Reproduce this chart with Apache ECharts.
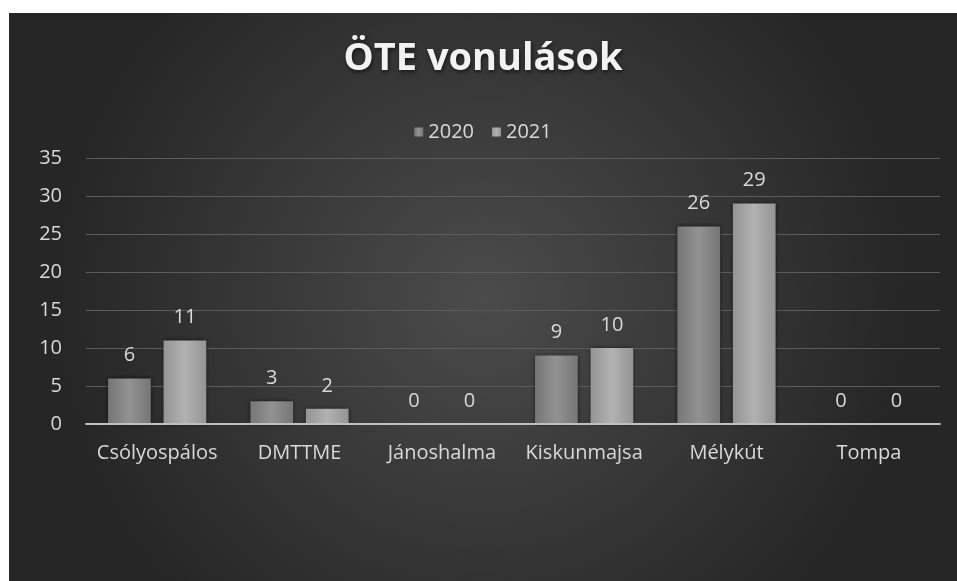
<!DOCTYPE html>
<html>
<head>
<meta charset="utf-8">
<script src="https://cdn.jsdelivr.net/npm/echarts@6/dist/echarts.min.js"></script>
<style>
    html, body {margin: 0; padding: 0; background: #fff;}
    #chart {position: absolute; left: 9px; top: 13px; width: 948px; height: 568px;}
</style>
</head>
<body>
<div id="chart"></div>
<script>
const categories = ['Csólyospálos', 'DMTTME', 'Jánoshalma', 'Kiskunmajsa', 'Mélykút', 'Tompa'];
const values2020 = [6, 3, 0, 9, 26, 0];
const values2021 = [11, 2, 0, 10, 29, 0];
const seriesNames = ['2020', '2021'];

const myChart = echarts.init(document.getElementById('chart'));

// oldalirányú árnyalás a "3D" hatáshoz
const barFill = (edge, mid) => new echarts.graphic.LinearGradient(0, 0, 1, 0, [
    {offset: 0, color: edge},
    {offset: 0.5, color: mid},
    {offset: 1, color: edge}
]);

const labelStyle = {
    show: true,
    position: 'top',
    distance: 13,
    color: '#d9d9d9',
    fontSize: 20,
    fontFamily: 'Open Sans'
};

const option = {
    backgroundColor: new echarts.graphic.RadialGradient(0.5, 0.5, 0.75, [
        {offset: 0, color: '#4b4b4b'},
        {offset: 1, color: '#262626'}
    ]),
    title: {
        text: 'ÖTE vonulások',
        left: 'center',
        top: 22,
        textStyle: {
            color: '#f2f2f2',
            fontSize: 38,
            fontWeight: 'bold',
            fontFamily: 'Open Sans',
            textShadowColor: 'rgba(0,0,0,0.6)',
            textShadowBlur: 4,
            textShadowOffsetX: 1,
            textShadowOffsetY: 2
        }
    },
    legend: {
        top: 104,
        left: 'center',
        icon: 'rect',
        itemWidth: 9,
        itemHeight: 9,
        itemGap: 18,
        textStyle: {color: '#d9d9d9', fontSize: 20, fontFamily: 'Open Sans'},
        data: seriesNames
    },
    grid: {left: 77, right: 17, top: 145, bottom: 157},
    xAxis: {
        type: 'category',
        data: categories,
        z: 5,
        axisLine: {lineStyle: {color: '#bfbfbf', width: 2}},
        axisTick: {show: false},
        axisLabel: {interval: 0, color: '#d9d9d9', fontSize: 20, fontFamily: 'Open Sans', margin: 19}
    },
    yAxis: {
        type: 'value',
        min: 0,
        max: 35,
        interval: 5,
        axisLine: {show: false},
        axisTick: {show: false},
        axisLabel: {color: '#d9d9d9', fontSize: 20, fontFamily: 'Open Sans', margin: 24},
        splitLine: {lineStyle: {color: '#5c5c5c', width: 1}}
    },
    series: [{
        name: seriesNames[0],
        type: 'bar',
        data: values2020,
        barWidth: '30%',
        barGap: '30%',
        itemStyle: {
            color: barFill('#767676', '#929292'),
            shadowColor: 'rgba(0,0,0,0.6)',
            shadowBlur: 4
        },
        label: labelStyle
    }, {
        name: seriesNames[1],
        type: 'bar',
        data: values2021,
        barWidth: '30%',
        itemStyle: {
            color: barFill('#949494', '#b2b2b2'),
            shadowColor: 'rgba(0,0,0,0.6)',
            shadowBlur: 4
        },
        label: labelStyle
    }]
};
myChart.setOption(option);
</script>
</body>
</html>
